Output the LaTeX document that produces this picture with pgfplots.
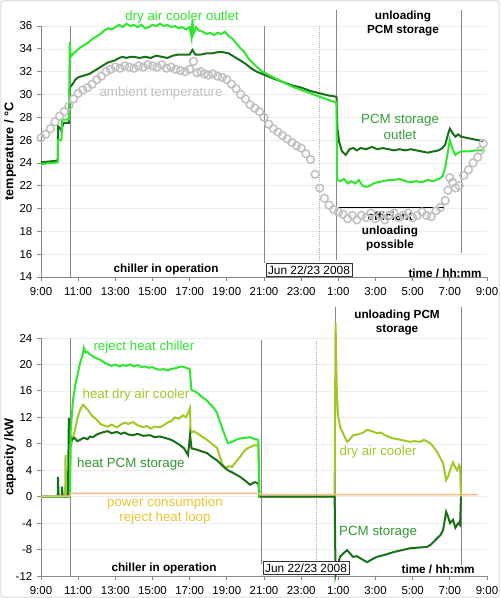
\documentclass[border=0pt]{standalone}
\usepackage{pgfplots}
\pgfplotsset{compat=1.18}
\usepackage{fontspec}
\setmainfont{Liberation Sans}
\definecolor{brightg}{RGB}{45,230,45}
\definecolor{darkg}{RGB}{25,112,25}
\definecolor{midg}{RGB}{55,160,55}
\definecolor{yellowg}{RGB}{160,200,40}
\definecolor{orangel}{RGB}{245,185,130}
\definecolor{goldt}{RGB}{238,195,50}
\definecolor{ambg}{RGB}{192,192,192}
\definecolor{axg}{RGB}{135,135,135}
\pgfplotsset{
 base/.style={
  scale only axis, width=334.5pt,
  xmin=9, xmax=33,
  axis x line*=bottom, axis y line*=left,
  axis line style={axg, line width=0.6pt},
  xtick={9,11,...,33},
  xticklabels={9:00,11:00,13:00,15:00,17:00,19:00,21:00,23:00,1:00,3:00,5:00,7:00,9:00},
  tick style={axg, line width=0.6pt},
  tick align=outside, major tick length=3pt,
  ticklabel style={font=\fontsize{8.6}{10}\selectfont},
  xticklabel style={yshift=-1.5pt},
  /pgf/number format/assume math mode=true,
  ymajorgrids, grid style={black!7, line width=0.4pt},
  clip=false,
  ylabel style={font=\fontsize{9.5}{11}\selectfont\bfseries, at={(axis description cs:-0.069,0.5)}, anchor=center},
 },
}
\tikzset{
 ann/.style={font=\fontsize{10}{11.5}\selectfont, align=center},
 bann/.style={font=\fontsize{8.8}{10.5}\selectfont\bfseries, align=center},
}
\begin{document}
\begin{tikzpicture}
\useasboundingbox (0,0) rectangle (375pt,448.5pt);
\draw[black!15, line width=0.8pt, rounded corners=2pt] (0.6pt,0.6pt) rectangle (374.4pt,447.9pt);
% ---------------- TOP PANEL ----------------
\begin{axis}[base, at={(30.75pt,240.75pt)}, anchor=south west, height=188.25pt,
  ymin=14, ymax=36, ytick={14,16,...,36}, ylabel={temperature / °C}]
% annotation lines
\draw[axg, line width=0.7pt] (axis cs:10.56,14) -- (axis cs:10.56,36);
\draw[axg, line width=0.7pt] (axis cs:21.0,15.2) -- (axis cs:21.0,36);
\draw[axg!70, line width=0.6pt, densely dotted] (axis cs:24.0,15.2) -- (axis cs:24.0,36);
\draw[axg, line width=0.7pt] (axis cs:24.9,15.5) -- (axis cs:24.9,37.4);
\draw[axg, line width=0.7pt] (axis cs:31.6,16.1) -- (axis cs:31.6,37.4);
% ambient
\addplot[only marks, mark=o, mark size=2.9pt, ambg, mark options={line width=1.1pt}] coordinates {
(9.00,26.2)(9.25,26.5)(9.5,27.0)(9.75,27.6)(10.0,28.1)(10.25,28.5)(10.5,29.0)(10.75,29.6)
(11.0,30.1)(11.25,30.4)(11.5,30.6)(11.75,30.9)(12.0,31.3)(12.25,31.6)(12.5,32.0)(12.75,32.2)
(13.0,32.4)(13.25,32.3)(13.5,32.5)(13.75,32.4)(14.0,32.3)(14.25,32.5)(14.5,32.4)(14.75,32.6)
(15.0,32.5)(15.25,32.4)(15.5,32.6)(15.75,32.3)(16.0,32.4)(16.25,32.2)(16.5,32.1)(16.75,32.0)
(17.0,32.2)(17.2,32.9)(17.4,31.9)(17.6,32.0)(17.8,31.8)(18.0,31.7)(18.25,31.8)(18.5,31.6)
(18.75,31.5)(19.0,31.3)(19.25,30.9)(19.5,30.5)(19.75,30.0)(20.0,29.6)(20.25,29.1)(20.5,28.8)
(20.75,28.5)(21.0,28.0)(21.25,27.4)(21.5,27.0)(21.75,26.7)(22.0,26.4)(22.25,26.1)(22.5,25.8)
(22.75,25.5)(23.0,25.3)(23.25,24.8)(23.5,24.3)(23.75,23.0)(24.0,21.8)(24.25,20.9)(24.5,20.3)
(24.75,19.9)(25.0,19.7)(25.25,19.5)(25.5,19.1)(25.75,19.4)(26.0,19.0)(26.25,19.4)(26.5,19.2)
(26.75,19.6)(27.0,19.1)(27.25,19.4)(27.5,19.0)(27.75,19.4)(28.0,19.6)(28.25,19.2)(28.5,19.4)
(28.75,19.6)(29.0,19.2)(29.25,19.4)(29.5,19.7)(29.75,19.4)(30.0,19.3)(30.25,19.8)(30.5,20.1)
(30.75,20.7)(30.9,21.6)(31.0,22.7)(31.15,22.3)(31.3,21.8)(31.5,22.0)(31.75,22.9)(32.0,23.4)
(32.25,24.0)(32.5,24.5)(32.65,25.1)(32.8,25.7)
};
% PCM storage outlet (dark green)
\addplot[darkg, line width=1.5pt] coordinates {
(9.0,24.05)(9.9,24.2)(9.92,27.2)(10.05,27.0)(10.1,26.8)(10.2,27.5)(10.5,27.5)(10.55,30.6)
(10.7,30.9)(10.85,31.3)(11.0,31.5)(11.2,31.6)(11.4,31.7)(11.6,31.8)(11.8,32.0)(12.0,32.2)
(12.2,32.4)(12.4,32.6)(12.6,32.8)(12.8,32.9)(13.0,33.0)(13.2,33.2)(13.4,33.3)(13.6,33.2)
(13.8,33.3)(14.0,33.3)(14.3,33.2)(14.6,33.3)(14.9,33.2)(15.2,33.4)(15.5,33.3)(15.8,33.2)
(16.1,33.4)(16.4,33.5)(16.7,33.5)(17.0,33.5)(17.15,33.9)(17.3,33.5)(17.6,33.5)(17.9,33.6)
(18.2,33.6)(18.5,33.7)(18.8,33.7)(19.1,33.6)(19.4,33.3)(19.7,33.0)(20.0,32.7)(20.3,32.3)
(20.6,32.0)(20.9,31.8)(21.5,31.4)(22,31.1)(22.5,30.8)(23,30.6)(23.5,30.3)(24,30.1)
(24.5,29.9)(24.9,29.8)(24.95,27.0)(25.05,25.8)(25.2,25.0)(25.4,24.7)(25.6,25.2)(25.8,25.3)
(26.0,25.1)(26.2,25.3)(26.5,25.2)(26.8,25.4)(27.1,25.2)(27.4,25.3)(27.7,25.2)(28.0,25.1)
(28.3,25.2)(28.6,25.1)(28.9,25.2)(29.2,25.1)(29.5,25.0)(29.8,24.9)(30.1,25.0)(30.4,25.1)
(30.6,25.3)(30.75,25.6)(30.9,26.5)(31.0,27.0)(31.15,26.6)(31.3,26.3)(31.45,26.5)(31.6,26.3)
(31.9,26.2)(32.2,26.1)(32.5,26.0)(32.8,25.9)
};
% dry air cooler outlet (bright green)
\addplot[brightg, line width=1.5pt] coordinates {
(9.0,23.9)(9.9,24.05)(9.92,26.0)(10.1,26.0)(10.13,27.8)(10.5,27.8)(10.55,34.6)(10.6,33.3)
(10.75,33.6)(10.9,33.8)(11.1,34.1)(11.3,34.3)(11.5,34.5)(11.65,34.7)(11.8,34.9)(12.0,35.1)
(12.2,35.3)(12.4,35.6)(12.6,35.8)(12.8,35.7)(13.0,35.9)(13.2,36.1)(13.4,35.9)(13.6,36.2)
(13.8,36.0)(14.0,36.1)(14.2,35.9)(14.4,36.1)(14.6,35.8)(14.8,35.9)(15.0,36.1)(15.2,36.0)
(15.4,36.2)(15.6,36.0)(15.8,36.1)(16.0,35.9)(16.2,36.0)(16.4,35.8)(16.6,35.9)(16.8,35.7)
(17.0,35.9)(17.1,35.0)(17.15,36.5)(17.2,35.3)(17.35,35.9)(17.5,35.6)(17.7,35.5)(17.9,35.3)
(18.1,35.4)(18.3,35.2)(18.5,35.4)(18.7,35.3)(18.9,35.5)(19.1,35.1)(19.3,34.9)(19.5,34.5)
(19.7,34.1)(19.9,33.8)(20.1,33.3)(20.3,32.9)(20.5,32.6)(20.7,32.3)(20.9,32.0)(21.5,31.5)
(22.0,31.1)(22.5,30.7)(23,30.4)(23.5,30.1)(24,29.8)(24.5,29.5)(24.9,29.3)(24.93,22.5)
(25.1,22.4)(25.3,22.6)(25.5,22.2)(25.7,22.4)(25.9,22.2)(26.1,22.5)(26.3,22.0)(26.5,21.9)
(26.7,22.0)(26.9,22.2)(27.1,22.3)(27.4,22.4)(27.7,22.5)(28.0,22.5)(28.3,22.6)(28.6,22.4)
(28.9,22.3)(29.2,22.4)(29.5,22.3)(29.8,22.5)(30.1,22.4)(30.4,22.6)(30.6,22.8)(30.75,23.6)
(30.9,25.0)(31.0,26.0)(31.15,25.2)(31.3,24.7)(31.45,24.9)(31.6,25.0)(32.0,25.0)(32.4,25.1)
(32.8,25.1)
};
% efficient unloading line
\draw[black, line width=1.1pt] (axis cs:25.0,20.1) -- (axis cs:30.7,20.1);
% texts
\node[ann, text=brightg] at (axis cs:16.59,36.79) {dry air cooler outlet};
\node[ann, text=ambg] at (axis cs:15.46,30.13) {ambient temperature};
\node[bann] at (axis cs:28.48,36.18) {unloading\\PCM storage};
\node[ann, text=midg] at (axis cs:28.32,27.15) {PCM storage\\outlet};
\node[bann] at (axis cs:27.78,18.0) {efficient\\unloading\\possible};
\node[bann] at (axis cs:15.73,14.7) {chiller in operation};
\node[draw=black!80, line width=0.5pt, fill=white, inner sep=1.5pt, font=\fontsize{8.9}{10}\selectfont] at (axis cs:23.42,14.6) {Jun 22/23 2008};
\node[bann] at (axis cs:30.74,14.35) {time / hh:mm};
\end{axis}
% ---------------- BOTTOM PANEL ----------------
\begin{axis}[base, at={(30.75pt,16.5pt)}, anchor=south west, height=178.5pt,
  ymin=-12, ymax=24, ytick={-12,-8,...,24}, ylabel={capacity /kW}]
\draw[axg, line width=0.7pt] (axis cs:10.56,-12) -- (axis cs:10.56,24);
\draw[axg, line width=0.7pt] (axis cs:20.85,-10.2) -- (axis cs:20.85,23.7);
\draw[axg!70, line width=0.6pt, densely dotted] (axis cs:23.8,-9.8) -- (axis cs:23.8,23.7);
\draw[axg, line width=0.7pt] (axis cs:24.85,-12) -- (axis cs:24.85,28.7);
\draw[axg, line width=0.7pt] (axis cs:31.6,-10.3) -- (axis cs:31.6,28.7);
% heat dry air cooler
\addplot[yellowg, line width=1.5pt] coordinates {
(9,0)(10.3,0)(10.32,6.3)(10.36,0)(10.55,0)(10.6,7.5)(10.72,9.0)(10.83,10.1)(10.95,11.8)
(11.1,13.1)(11.26,13.9)(11.4,13.5)(11.53,13.1)(11.7,12.4)(11.85,12.0)(12.01,11.6)(12.2,11.0)
(12.34,10.8)(12.6,10.6)(12.8,10.9)(13.09,10.5)(13.3,10.9)(13.5,11.2)(13.7,11.0)(13.95,11.3)
(14.2,10.8)(14.49,10.5)(14.7,10.7)(14.9,10.3)(15.1,10.6)(15.4,10.5)(15.6,10.8)(15.8,11.2)
(16.0,11.4)(16.21,12.0)(16.4,11.8)(16.64,12.3)(16.8,12.0)(16.95,12.9)(17.02,13.4)(17.05,9.6)
(17.2,9.9)(17.4,9.6)(17.6,9.2)(17.93,8.6)(18.2,8.0)(18.47,7.4)(18.6,6.3)(18.75,5.0)
(18.9,4.3)(19.1,4.6)(19.28,4.5)(19.5,5.3)(19.71,6.0)(19.9,6.8)(20.1,7.3)(20.25,7.5)
(20.5,7.8)(20.7,7.7)(20.75,0)(24.8,0)(24.85,26.3)(24.92,15.7)(24.98,12.4)(25.1,10.5)
(25.25,9.6)(25.47,8.3)(25.6,8.6)(25.79,9.3)(26.0,9.4)(26.28,9.6)(26.55,10.1)(26.8,9.9)
(27.08,9.6)(27.3,9.7)(27.5,9.3)(27.95,8.8)(28.2,8.7)(28.5,8.5)(28.86,8.3)(29.1,8.4)
(29.4,8.3)(29.6,8.6)(29.94,8.1)(30.1,7.6)(30.31,6.8)(30.5,5.8)(30.64,5.0)(30.8,2.5)
(30.9,3.0)(31.01,4.0)(31.17,5.2)(31.28,4.5)(31.39,4.0)(31.5,4.8)(31.55,4.5)(31.6,0)
};
% heat PCM storage
\addplot[darkg, line width=1.5pt] coordinates {
(9,0)(9.9,0)(9.91,3.0)(9.95,0)(10.12,0)(10.13,1.5)(10.17,0)(10.45,0)(10.5,11.9)(10.55,8.0)
(10.6,9.0)(10.67,8.6)(10.8,8.9)(10.95,8.4)(11.1,8.6)(11.3,8.9)(11.5,8.7)(11.64,9.1)(11.8,9.0)
(12.0,9.4)(12.18,9.6)(12.4,9.8)(12.6,9.9)(12.8,9.6)(13.09,9.8)(13.3,9.5)(13.5,9.7)(13.7,9.4)
(13.95,9.3)(14.2,9.5)(14.5,9.2)(14.87,9.3)(15.1,9.0)(15.4,9.1)(15.78,8.8)(16.0,8.6)(16.2,8.3)
(16.48,7.8)(16.7,7.3)(16.91,6.3)(17.02,9.3)(17.1,7.3)(17.4,7.1)(17.7,6.8)(17.93,6.6)(18.2,6.0)
(18.47,5.5)(18.8,4.6)(19.06,4.0)(19.4,3.5)(19.71,3.0)(20.0,2.4)(20.25,1.8)(20.5,2.2)(20.7,2.0)
(20.75,0)(24.8,0)(24.85,-11.8)(24.95,-10.5)(25.09,-9.1)(25.3,-8.5)(25.47,-8.1)(25.63,-8.6)
(25.79,-9.1)(26.0,-9.0)(26.17,-9.3)(26.35,-9.6)(26.55,-9.9)(26.8,-9.5)(27.08,-9.1)(27.5,-8.8)
(27.95,-8.4)(28.4,-8.1)(28.86,-7.8)(29.3,-7.7)(29.78,-7.6)(30.0,-7.2)(30.31,-6.3)(30.5,-5.8)
(30.64,-5.0)(30.8,-2.3)(30.9,-3.0)(31.01,-4.0)(31.17,-3.5)(31.3,-4.7)(31.45,-4.0)(31.55,-4.3)
(31.6,0)
};
% reject heat chiller
\addplot[brightg, line width=1.5pt] coordinates {
(9,0)(10.55,0)(10.6,10)(10.72,14.6)(10.85,17.0)(10.94,18.1)(11.1,20.2)(11.25,21.5)(11.31,22.5)
(11.4,21.8)(11.5,21.9)(11.64,21.5)(11.8,21.2)(12.0,20.9)(12.2,20.7)(12.4,20.3)(12.6,20.0)
(12.8,19.8)(13.0,20.0)(13.2,19.7)(13.4,19.9)(13.6,19.8)(13.8,20.0)(14.0,19.7)(14.2,19.9)
(14.4,19.6)(14.6,19.7)(14.8,19.5)(15.0,19.6)(15.2,19.3)(15.4,19.2)(15.6,19.3)(15.8,19.1)
(16.0,19.3)(16.2,19.4)(16.4,19.6)(16.6,19.7)(16.8,19.5)(17.0,19.3)(17.1,16.1)(17.3,15.9)
(17.5,15.5)(17.7,15.0)(17.9,14.6)(18.1,14.0)(18.3,13.4)(18.47,12.7)(18.6,11.6)(18.74,10.5)
(18.9,9.2)(19.06,8.1)(19.3,8.3)(19.5,8.6)(19.7,8.8)(19.98,8.9)(20.25,9.0)(20.5,8.7)(20.7,8.6)
(20.75,0)
};
% power consumption
\addplot[orangel, line width=1.1pt] coordinates {
(9,0.05)(10.55,0.1)(10.6,0.5)(20.75,0.5)(20.8,0.3)(32.5,0.3)
};
\node[ann, text=brightg] at (axis cs:14.54,22.64) {reject heat chiller};
\node[ann, text=yellowg] at (axis cs:14.11,15.38) {heat dry air cooler};
\node[ann, text=midg!80!darkg] at (axis cs:13.84,4.94) {heat PCM storage};
\node[ann, text=goldt] at (axis cs:15.67,-2.1) {power consumption\\reject heat loop};
\node[bann] at (axis cs:15.62,-10.8) {chiller in operation};
\node[bann] at (axis cs:28.16,26.34) {unloading PCM\\storage};
\node[ann, text=yellowg] at (axis cs:27.14,6.75) {dry air cooler};
\node[ann, text=midg!80!darkg] at (axis cs:27.14,-5.35) {PCM storage};
\node[draw=black!80, line width=0.5pt, fill=white, inner sep=1.5pt, font=\fontsize{8.9}{10}\selectfont] at (axis cs:23.26,-10.8) {Jun 22/23 2008};
\node[bann] at (axis cs:30.37,-10.96) {time / hh:mm};
\end{axis}
\end{tikzpicture}
\end{document}
